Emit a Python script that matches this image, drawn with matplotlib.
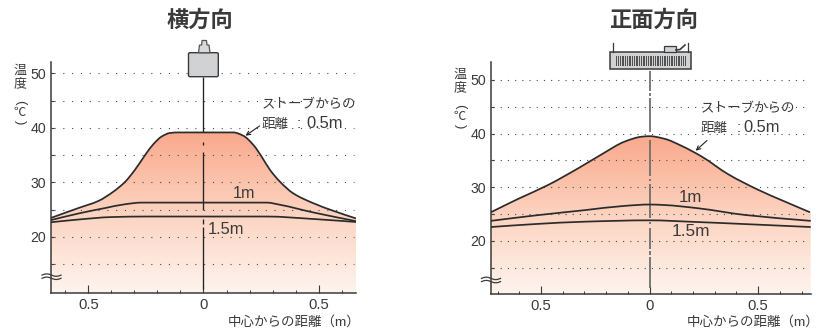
import numpy as np
import matplotlib
matplotlib.use('Agg')
import matplotlib.pyplot as plt
from matplotlib.patches import Rectangle, Polygon, FancyBboxPatch, PathPatch
from matplotlib.path import Path
from matplotlib.colors import LinearSegmentedColormap
from matplotlib.ticker import MultipleLocator, FixedLocator

plt.rcParams['font.family'] = ['Liberation Sans', 'Noto Sans CJK JP', 'DejaVu Sans']

W, H = 828, 328
DARK = '#3a3a3a'
JP = ['Noto Sans CJK JP']

# Data (m from centre, deg C)
side_x_05 = [-0.663, -0.544, -0.457, -0.392, -0.341, -0.298, -0.254, -0.218, -0.182, -0.146, -0.11, 0.13, 0.173, 0.217, 0.253, 0.289, 0.333, 0.39, 0.477, 0.564, 0.663]
side_y_05 = [23.5, 25.3, 26.6, 28.3, 30.1, 32.3, 35.0, 37.0, 38.4, 39.05, 39.15, 39.15, 38.55, 36.85, 34.7, 32.3, 30.1, 28.0, 26.2, 24.8, 23.4]
side_x_1 = [-0.663, -0.544, -0.428, -0.341, -0.269, -0.11, 0.275, 0.333, 0.477, 0.663]
side_y_1 = [23.1, 24.3, 25.3, 26.0, 26.3, 26.3, 26.3, 25.9, 24.5, 22.9]
side_x_15 = [-0.663, -0.544, -0.4, -0.255, 0.275, 0.477, 0.663]
side_y_15 = [22.7, 23.2, 23.65, 23.75, 23.75, 23.3, 22.75]

front_x_05 = [-0.731, -0.605, -0.467, -0.329, -0.221, -0.114, -0.037, 0, 0.07, 0.147, 0.24, 0.362, 0.5, 0.623, 0.739]
front_y_05 = [25.3, 27.8, 30.4, 33.5, 36.1, 38.5, 39.4, 39.5, 39.0, 37.7, 35.7, 32.4, 29.5, 27.3, 25.3]
front_x_1 = [-0.731, -0.529, -0.298, -0.114, 0, 0.07, 0.224, 0.44, 0.742]
front_y_1 = [23.7, 24.7, 25.7, 26.5, 26.75, 26.65, 26.05, 24.8, 23.7]
front_x_15 = [-0.731, -0.529, -0.298, 0, 0.21, 0.44, 0.742]
front_y_15 = [22.55, 23.1, 23.55, 23.8, 23.5, 23.1, 22.55]

yticks = [20, 30, 40, 50]
titles = ['横方向', '正面方向']

grad = LinearSegmentedColormap.from_list('warm', ['#fef4ee', '#fcd3c0', '#f9a98c'])

fig = plt.figure(figsize=(W / 100, H / 100), dpi=100)


def make_axes(px0, px1, py_top, py_bot):
    return fig.add_axes([px0 / W, 1 - py_bot / H, (px1 - px0) / W, (py_bot - py_top) / H])


def smooth_path(xs, ys):
    # monotone bezier path through the read points
    x = np.array(xs, dtype=float)
    y = np.array(ys, dtype=float)
    h = np.diff(x)
    d = np.diff(y) / h
    m = np.zeros(len(x))
    m[0], m[-1] = d[0], d[-1]
    for i in range(1, len(x) - 1):
        if d[i - 1] * d[i] > 0:
            w1 = 2 * h[i] + h[i - 1]
            w2 = h[i] + 2 * h[i - 1]
            m[i] = (w1 + w2) / (w1 / d[i - 1] + w2 / d[i])
    verts = [(x[0], y[0])]
    for i in range(len(h)):
        verts.append((x[i] + h[i] / 3, y[i] + m[i] * h[i] / 3))
        verts.append((x[i + 1] - h[i] / 3, y[i + 1] - m[i + 1] * h[i] / 3))
        verts.append((x[i + 1], y[i + 1]))
    codes = [Path.MOVETO] + [Path.CURVE4] * (len(verts) - 1)
    return verts, codes


def panel(ax, xlim, ylim, x05, y05, x1, y1, x15, y15, center_segs, center_color, center_lw, dot_px, dot_end):
    ax.set_xlim(*xlim)
    ax.set_ylim(*ylim)
    ax.patch.set_alpha(0)
    for s in ['top', 'right']:
        ax.spines[s].set_visible(False)
    for s in ['left', 'bottom']:
        ax.spines[s].set_linewidth(1.1)
        ax.spines[s].set_color(DARK)

    # gradient fill under the 0.5 m curve
    g = np.linspace(0, 1, 256).reshape(-1, 1)
    im = ax.imshow(g, origin='lower', aspect='auto', cmap=grad, zorder=1,
                   extent=[xlim[0], xlim[1], ylim[0], max(y05)])
    ax.set_xlim(*xlim)
    ax.set_ylim(*ylim)
    verts, codes = smooth_path(x05, y05)
    verts = verts + [(xlim[1], y05[-1]), (xlim[1], ylim[0]), (xlim[0], ylim[0]), (xlim[0], y05[0]), verts[0]]
    codes = codes + [Path.LINETO] * 4 + [Path.CLOSEPOLY]
    clip = PathPatch(Path(verts, codes), transform=ax.transData, fc='none', ec='none')
    ax.add_patch(clip)
    im.set_clip_path(clip)

    # dotted guide lines every 5 deg
    lw = 0.8
    gap = dot_px * 0.72 / lw - 1
    for v in range(15, 55, 5):
        ax.plot([xlim[0] + 0.012, dot_end], [v, v], color='#4a4a4a', lw=lw, ls=(0, (1, gap)), zorder=2)

    for a, b in center_segs:
        ax.plot([0, 0], [a, b], color=center_color, lw=center_lw, zorder=3, clip_on=False,
                solid_capstyle='butt')

    for xs, ys in [(x05, y05), (x1, y1), (x15, y15)]:
        v, c = smooth_path(xs, ys)
        ax.add_patch(PathPatch(Path(v, c), fc='none', ec='#2b2b2b', lw=1.25, zorder=4))

    ax.yaxis.set_major_locator(FixedLocator(yticks))
    ax.yaxis.set_minor_locator(FixedLocator([15, 25, 35, 45]))
    ax.xaxis.set_major_locator(FixedLocator([-0.5, 0, 0.5]))
    ax.xaxis.set_minor_locator(MultipleLocator(0.1))
    ax.set_xticklabels(['0.5', '0', '0.5'])
    ax.tick_params(axis='x', which='major', direction='in', length=5.5, width=0.8, color=DARK,
                   labelsize=10.7, labelcolor=DARK, pad=3.5)
    ax.tick_params(axis='x', which='minor', direction='in', length=2, width=0.7, color=DARK)
    ax.tick_params(axis='y', which='both', direction='in', length=2.5, width=0.8, color=DARK,
                   labelsize=10.2, labelcolor=DARK, pad=3.5)


left = make_axes(51, 356, 62, 293)
panel(left, (-0.663, 0.663), (20 - 56 / 5.46, 20 + 175 / 5.46),
      side_x_05, side_y_05, side_x_1, side_y_1, side_x_15, side_y_15,
      [(10.5, 21.8), (22.4, 23.3), (24.9, 35.6), (36.85, 37.45), (39.2, 49.3)], '#222222', 0.95, 8.8, 0.655)

right = make_axes(490.7, 810.7, 62, 294)
panel(right, (-0.7315, 0.742), (20 - 53.3 / 5.36, 20 + 178.7 / 5.36),
      front_x_05, front_y_05, front_x_1, front_y_1, front_x_15, front_y_15,
      [(11.2, 17.0), (17.4, 18.0), (18.4, 22.4), (23.1, 23.5), (24.2, 30.6), (31.1, 31.5), (32.1, 38.8),
       (40.3, 46.6), (47.0, 47.55), (47.9, 51.7)], '#6f6f6f', 1.3, 7.2, 0.72)

# overlay in pixel coordinates for text and the small heater pictures
ov = fig.add_axes([0, 0, 1, 1], zorder=10)
ov.set_xlim(0, W)
ov.set_ylim(H, 0)
ov.axis('off')


def txt(x, y, s, size=9.5, **kw):
    kw.setdefault('ha', 'left')
    kw.setdefault('va', 'center')
    ov.text(x, y, s, fontsize=size, color=DARK, **kw)


txt(200, 20, titles[0], 16, ha='center', fontweight='bold', family=JP)
txt(654, 20, titles[1], 16, ha='center', fontweight='bold', family=JP)

for x0, y0 in [(20, 0), (460, 4)]:
    txt(x0, 70 + y0, '温', 9.4, ha='center', family=JP)
    txt(x0, 83.5 + y0, '度', 9.4, ha='center', family=JP)
    txt(x0, 102 + y0, '(', 9.5, ha='center', rotation=-90)
    txt(x0, 112 + y0, '℃', 8.8, ha='center', family=JP)
    txt(x0, 122 + y0, ')', 9.5, ha='center', rotation=-90)

# stove distance labels
txt(261.5, 104, 'ストーブからの', 9.7, family=JP)
txt(261.5, 124, '距離', 9.7, family=JP)
txt(296.5, 124, ':', 11)
txt(306, 124, '0.5m', 11.9)
txt(701, 108, 'ストーブからの', 9.7, family=JP)
txt(701, 128, '距離', 9.7, family=JP)
txt(736.5, 128, ':', 11)
txt(743, 128, '0.5m', 11.9)

txt(233, 194, '1m', 11.6)
txt(207.5, 230, '1.5m', 11.9)
txt(679, 197, '1m', 12.2)
txt(672, 231, '1.5m', 12.4)
txt(361, 322, '中心からの距離（m）', 9.7, ha='right', family=['Liberation Sans', 'Noto Sans CJK JP'])
txt(820, 322, '中心からの距離（m）', 9.7, ha='right', family=['Liberation Sans', 'Noto Sans CJK JP'])

# arrows from the labels to the 0.5 m curves
ov.annotate('', xy=(245.5, 135.7), xytext=(259.5, 126), arrowprops=dict(arrowstyle='->', lw=0.8, color='#222222', mutation_scale=7, shrinkA=0, shrinkB=0))
ov.annotate('', xy=(695.7, 150.7), xytext=(707, 140.5), arrowprops=dict(arrowstyle='->', lw=0.8, color='#222222', mutation_scale=7, shrinkA=0, shrinkB=0))

# axis break marks
for x0, y0 in [(51.5, 276.7), (491, 280)]:
    for dy in (-1.6, 1.6):
        xs = np.linspace(x0 - 9.5, x0 + 9.5, 30)
        ov.plot(xs, y0 + dy + 1.2 * np.sin((xs - x0) / 19 * 2 * np.pi), color=DARK, lw=0.9)

# side view heater
ov.add_patch(FancyBboxPatch((188.5, 52.7), 29.8, 24, boxstyle='round,pad=0,rounding_size=1.5',
                            fc='#d0d2d3', ec=DARK, lw=1.0))
ov.add_patch(Polygon([(198.5, 52.7), (199.5, 45), (201.7, 45), (202, 40.5), (206.5, 40.5), (207, 45),
                      (209, 45), (210, 52.7)], closed=True, fc='#d8d9da', ec='#555555', lw=0.9))

# front view heater
ov.add_patch(Rectangle((610.3, 52.3), 80.7, 16.8, fc='#d0d2d3', ec=DARK, lw=1.1))
for xh in np.arange(616.5, 686, 1.75):
    ov.plot([xh, xh], [56, 65], color='#4d4d4d', lw=0.7)
ov.add_patch(Rectangle((664.5, 45.5), 11.5, 6.8, fc='#d0d2d3', ec=DARK, lw=0.9))
ov.plot([613.5, 613.5], [43.3, 52], color=DARK, lw=0.9)
ov.plot([687.7, 687.7], [43.3, 52], color=DARK, lw=0.9)
ov.plot([676, 680, 685], [50, 49.5, 45], color=DARK, lw=1.2)

fig.savefig('out.png', dpi=100)
